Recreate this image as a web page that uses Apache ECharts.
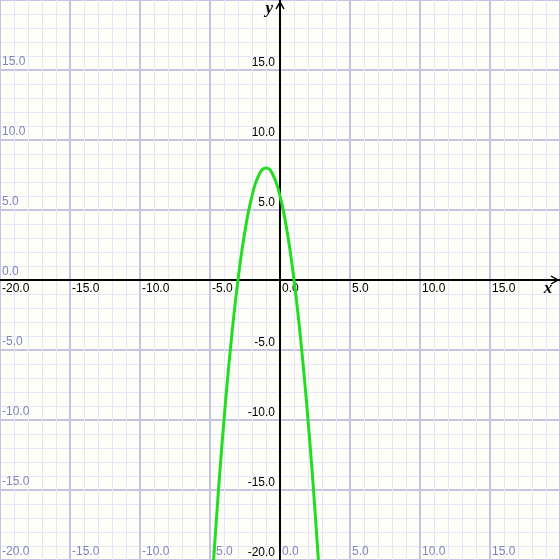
<!DOCTYPE html>
<html>
<head>
<meta charset="utf-8">
<script src="https://cdn.jsdelivr.net/npm/echarts@6/dist/echarts.min.js"></script>
<style>html,body{margin:0;padding:0;background:#fffffa}#c{width:560px;height:560px}</style>
</head>
<body>
<div id="c"></div>
<script>
// Axis settings
var axisMin = -20, axisMax = 20, majorStep = 5;
// Curve points
var curveX = [-4.75, -4.5, -4.25, -4, -3.75, -3.5, -3.25, -3, -2.75, -2.5, -2.25, -2, -1.75, -1.5, -1.25, -1,
              -0.75, -0.5, -0.25, 0, 0.25, 0.5, 0.75, 1, 1.25, 1.5, 1.75, 2, 2.25, 2.5, 2.75];
var curveY = [-20.1, -16.5, -13.1, -10, -7.1, -4.5, -2.1, 0, 1.9, 3.5, 4.9, 6, 6.9, 7.5, 7.9, 8,
              7.9, 7.5, 6.9, 6, 4.9, 3.5, 1.9, 0, -2.1, -4.5, -7.1, -10, -13.1, -16.5, -20.1];
// Labels hidden on each axis
var xAxisHidden = [20];
var yAxisHidden = [0, 20];
var sideXHidden = [-20, 20];
var sideYHidden = [20];

var lavender = '#8282bc';
var font = '"Liberation Sans", Arial, sans-serif';
var arrowPath = 'path://M5,0 L10,9 L8.8,10 L5,3.2 L1.2,10 L0,9 Z';
function fmt(hidden) {
  return function (v) { return hidden.indexOf(v) >= 0 ? '' : v.toFixed(1); };
}
var points = curveX.map(function (x, i) { return [x, curveY[i]]; });

var chart = echarts.init(document.getElementById('c'), null, {renderer: 'canvas'});
chart.setOption({
  animation: false,
  backgroundColor: '#fffffa',
  grid: {left: 0, right: 0, top: 0, bottom: 0, containLabel: false, outerBoundsMode: 'none'},
  xAxis: [
    {
      type: 'value', min: axisMin, max: axisMax, interval: majorStep, position: 'bottom', offset: -280,
      axisLine: {show: true, onZero: false,
        lineStyle: {color: '#000', width: 2},
        symbol: ['none', arrowPath], symbolSize: [9, 10], symbolOffset: [0, -5]},
      axisTick: {show: false},
      axisLabel: {show: true, inside: false, color: '#000', fontSize: 12, fontFamily: font,
        align: 'left', verticalAlign: 'top', margin: 3, padding: [0, 0, 0, 2],
        showMinLabel: true, showMaxLabel: true, hideOverlap: false, formatter: fmt(xAxisHidden)},
      splitLine: {show: true, lineStyle: {color: '#c6c2e2', width: 2}},
      minorTick: {show: false, splitNumber: 5},
      minorSplitLine: {show: true, lineStyle: {color: '#e6e6f6', width: 1}},
      name: 'x', nameLocation: 'end', nameGap: -12, nameMoveOverlap: false,
      nameTextStyle: {fontFamily: '"Liberation Serif", "Times New Roman", serif', fontStyle: 'italic',
        fontWeight: 'bold', fontSize: 17, color: '#000', align: 'center', verticalAlign: 'top'}
    },
    {
      type: 'value', min: axisMin, max: axisMax, interval: majorStep, position: 'bottom', offset: 0,
      axisLine: {show: false, onZero: false},
      axisTick: {show: false},
      axisLabel: {show: true, inside: true, color: lavender, fontSize: 12, fontFamily: font,
        align: 'left', verticalAlign: 'bottom', margin: 2, padding: [0, 0, 0, 2],
        showMinLabel: true, showMaxLabel: true, hideOverlap: false, formatter: fmt(sideXHidden)},
      splitLine: {show: false}
    }
  ],
  yAxis: [
    {
      type: 'value', min: axisMin, max: axisMax, interval: majorStep, position: 'left', offset: -280,
      axisLine: {show: true, onZero: false,
        lineStyle: {color: '#000', width: 2},
        symbol: ['none', arrowPath], symbolSize: [9, 10], symbolOffset: [0, -5]},
      axisTick: {show: false},
      axisLabel: {show: true, inside: false, color: '#000', fontSize: 12, fontFamily: font,
        align: 'right', verticalAlign: 'bottom', margin: 5, padding: [0, 0, 1, 0],
        showMinLabel: true, showMaxLabel: true, hideOverlap: false, formatter: fmt(yAxisHidden)},
      splitLine: {show: true, lineStyle: {color: '#c6c2e2', width: 2}},
      minorTick: {show: false, splitNumber: 5},
      minorSplitLine: {show: true, lineStyle: {color: '#e6e6f6', width: 1}},
      name: 'y', nameLocation: 'end', nameGap: -9, nameMoveOverlap: false,
      nameTextStyle: {fontFamily: '"Liberation Serif", "Times New Roman", serif', fontStyle: 'italic',
        fontWeight: 'bold', fontSize: 17, color: '#000', align: 'right', verticalAlign: 'middle',
        padding: [0, 7, 0, 0]}
    },
    {
      type: 'value', min: axisMin, max: axisMax, interval: majorStep, position: 'left', offset: 0,
      axisLine: {show: false, onZero: false},
      axisTick: {show: false},
      axisLabel: {show: true, inside: true, color: lavender, fontSize: 12, fontFamily: font,
        align: 'left', verticalAlign: 'bottom', margin: 2, padding: [0, 0, 2, 0],
        showMinLabel: true, showMaxLabel: true, hideOverlap: false, formatter: fmt(sideYHidden)},
      splitLine: {show: false}
    }
  ],
  series: [{
    type: 'line', xAxisIndex: 0, yAxisIndex: 0, data: points, smooth: true,
    showSymbol: false, clip: true, z: 5,
    lineStyle: {color: '#22dd22', width: 3}
  }]
});
</script>
</body>
</html>
